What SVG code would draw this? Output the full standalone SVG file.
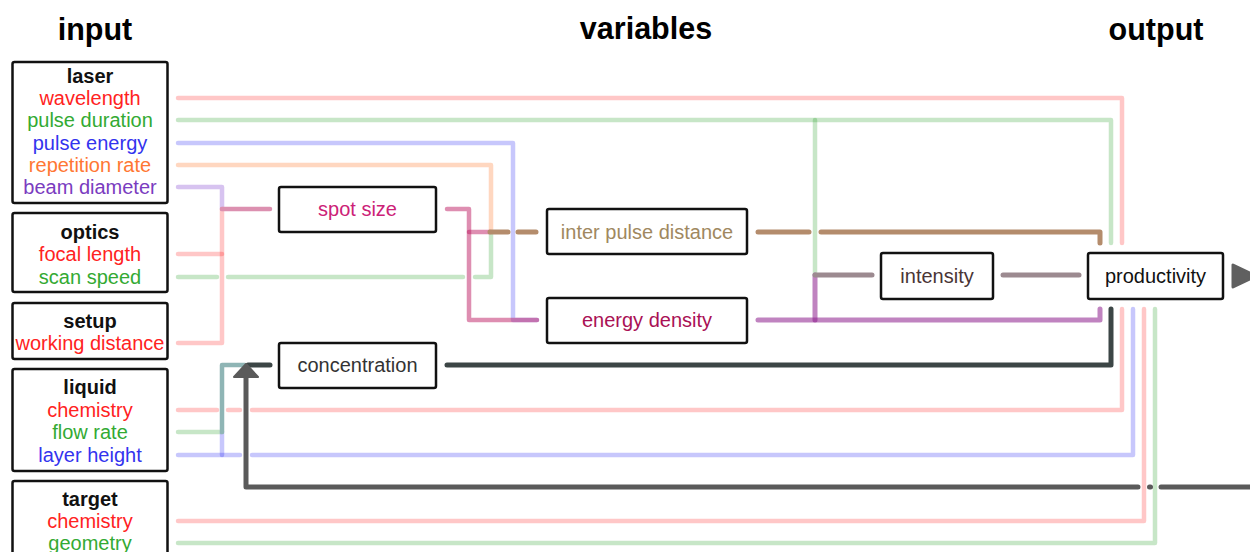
<svg xmlns="http://www.w3.org/2000/svg" width="1250" height="552" viewBox="0 0 1250 552">
  <style>
    text { font-family: "Liberation Sans", Arial, sans-serif; font-size: 20px; text-anchor: middle; }
    .head { font-weight: bold; font-size: 30.5px; fill: #000; }
    .title { font-weight: bold; fill: #111; }
    .box { fill: #fff; stroke: #111; stroke-width: 2.5; }
    .c { fill: none; stroke-linecap: round; stroke-linejoin: round; stroke-width: 4.5; }
    .red { fill: #f22; } .grn { fill: #33aa33; } .blu { fill: #3333ee; } .org { fill: #ff7733; } .pur { fill: #7a3cc0; }
    .l-pink { stroke: rgba(255,0,0,0.22); }
    .l-grn { stroke: rgba(0,140,0,0.22); }
    .l-blu { stroke: rgba(0,0,240,0.22); }
    .l-org { stroke: rgba(255,110,30,0.28); }
    .l-pur { stroke: rgba(110,40,200,0.28); }
    .l-spot { stroke: rgba(190,30,100,0.5); }
    .l-ipd { stroke: #b48c6c; stroke-width: 5; }
    .l-ed { stroke: rgba(140,30,140,0.55); stroke-width: 5; }
    .l-int { stroke: #9c8a90; stroke-width: 5; }
    .l-conc { stroke: #3c4646; stroke-width: 5; }
    .l-fb { stroke: #5a5a5a; stroke-width: 5; }
  </style>

  <!-- column headings -->
  <text class="head" x="95" y="40">input</text>
  <text class="head" x="646" y="39">variables</text>
  <text class="head" x="1156" y="40">output</text>

  <!-- connectors -->
  <g id="connectors">
    <!-- laser parameters straight to productivity -->
    <path class="c l-pink" d="M178,98 H1122 V243"/>
    <path class="c l-grn" d="M178,120 H1111 V243"/>
    <path class="c l-grn" d="M815,120 V275"/>
    <!-- pulse energy to energy density -->
    <path class="c l-blu" d="M178,143 H513 V320 H537"/>
    <!-- repetition rate and scan speed to inter pulse distance -->
    <path class="c l-org" d="M178,165 H491 V232"/>
    <path class="c l-grn" d="M178,277 H217"/>
    <path class="c l-grn" d="M228,277 H463"/>
    <path class="c l-grn" d="M475,277 H491 V232"/>
    <!-- spot size inputs -->
    <path class="c l-pur" d="M178,187 H222 V209"/>
    <path class="c l-pink" d="M178,254 H222"/>
    <path class="c l-pink" d="M178,343 H222 V209"/>
    <path class="c" style="stroke:#dc90b0" d="M222,209 H270"/>
    <!-- spot size output -->
    <path class="c l-spot" d="M447,209 H469 V320 H537"/>
    <path class="c l-spot" d="M469,232 H490"/>
    <path class="c l-ipd" stroke-linecap="butt" stroke-dasharray="18 10" d="M490,232 H537"/>
    <!-- inter pulse distance output -->
    <path class="c l-ipd" d="M758,232 H809"/>
    <path class="c l-ipd" d="M821,232 H1100 V243"/>
    <!-- energy density output -->
    <path class="c l-ed" d="M758,320 H1100 V309"/>
    <path class="c l-ed" d="M815,320 V275"/>
    <!-- intensity -->
    <path class="c l-int" d="M815,275 H872"/>
    <path class="c l-int" d="M1003,275 H1079"/>
    <!-- liquid parameters -->
    <path class="c l-pink" d="M178,410 H217"/>
    <path class="c l-pink" d="M228,410 H240"/>
    <path class="c l-pink" d="M252,410 H1122 V309"/>
    <path class="c l-grn" d="M178,432 H222"/>
    <path class="c l-blu" d="M178,455 H240"/>
    <path class="c l-blu" d="M252,455 H1133 V309"/>
    <path class="c l-blu" d="M222,455 V432"/>
    <path class="c" style="stroke:#8fb5b5" d="M222,432 V365 H245"/>
    <!-- target parameters -->
    <path class="c l-pink" d="M178,521 H1144 V309"/>
    <path class="c l-grn" d="M178,543 H1155 V309"/>
    <!-- concentration -->
    <path class="c l-conc" d="M248,365 H270"/>
    <path class="c l-conc" d="M447,365 H1111 V309"/>
    <!-- feedback loop from the output back to concentration -->
    <path class="c l-fb" d="M1252,487 H1161"/>
    <path class="c l-fb" d="M1149.5,487 H1150.5"/>
    <path class="c l-fb" d="M1138,487 H246 V376"/>
    <polygon points="246,364 258,377 234,377" fill="#5a5a5a" stroke="#5a5a5a" stroke-width="2" stroke-linejoin="round"/>
    <!-- output arrow -->
    <polygon points="1233,265 1233,287 1256,276" fill="#606060" stroke="#606060" stroke-width="3" stroke-linejoin="round"/>
  </g>

  <!-- input nodes -->
  <g id="laser">
    <rect class="box" x="12.5" y="62" width="155" height="141" rx="2"/>
    <text class="title" x="90" y="83">laser</text>
    <text class="red" x="90" y="105">wavelength</text>
    <text class="grn" x="90" y="127">pulse duration</text>
    <text class="blu" x="90" y="150">pulse energy</text>
    <text class="org" x="90" y="172">repetition rate</text>
    <text class="pur" x="90" y="194">beam diameter</text>
  </g>
  <g id="optics">
    <rect class="box" x="12.5" y="213" width="155" height="79" rx="2"/>
    <text class="title" x="90" y="239">optics</text>
    <text class="red" x="90" y="261">focal length</text>
    <text class="grn" x="90" y="284">scan speed</text>
  </g>
  <g id="setup">
    <rect class="box" x="12.5" y="303" width="155" height="56" rx="2"/>
    <text class="title" x="90" y="328">setup</text>
    <text class="red" x="90" y="350">working distance</text>
  </g>
  <g id="liquid">
    <rect class="box" x="12.5" y="369" width="155" height="102" rx="2"/>
    <text class="title" x="90" y="394">liquid</text>
    <text class="red" x="90" y="417">chemistry</text>
    <text class="grn" x="90" y="439">flow rate</text>
    <text class="blu" x="90" y="462">layer height</text>
  </g>
  <g id="target">
    <rect class="box" x="12.5" y="481" width="155" height="100" rx="2"/>
    <text class="title" x="90" y="506">target</text>
    <text class="red" x="90" y="528">chemistry</text>
    <text class="grn" x="90" y="550">geometry</text>
  </g>

  <!-- variable nodes -->
  <g id="spot-size">
    <rect class="box" x="279" y="187" width="157" height="45" rx="2"/>
    <text x="357.5" y="216" fill="#cc2277">spot size</text>
  </g>
  <g id="concentration">
    <rect class="box" x="279" y="343" width="157" height="45" rx="2"/>
    <text x="357.5" y="372" fill="#333">concentration</text>
  </g>
  <g id="inter-pulse-distance">
    <rect class="box" x="547" y="209" width="200" height="45" rx="2"/>
    <text x="647" y="239" fill="#a08860">inter pulse distance</text>
  </g>
  <g id="energy-density">
    <rect class="box" x="547" y="298" width="200" height="45" rx="2"/>
    <text x="647" y="327" fill="#aa1155">energy density</text>
  </g>
  <g id="intensity">
    <rect class="box" x="881" y="253" width="112" height="46" rx="2"/>
    <text x="937" y="283" fill="#4a3535">intensity</text>
  </g>

  <!-- output node -->
  <g id="productivity">
    <rect class="box" x="1088" y="253" width="135" height="46" rx="2"/>
    <text x="1155.5" y="283" fill="#111">productivity</text>
  </g>
</svg>
